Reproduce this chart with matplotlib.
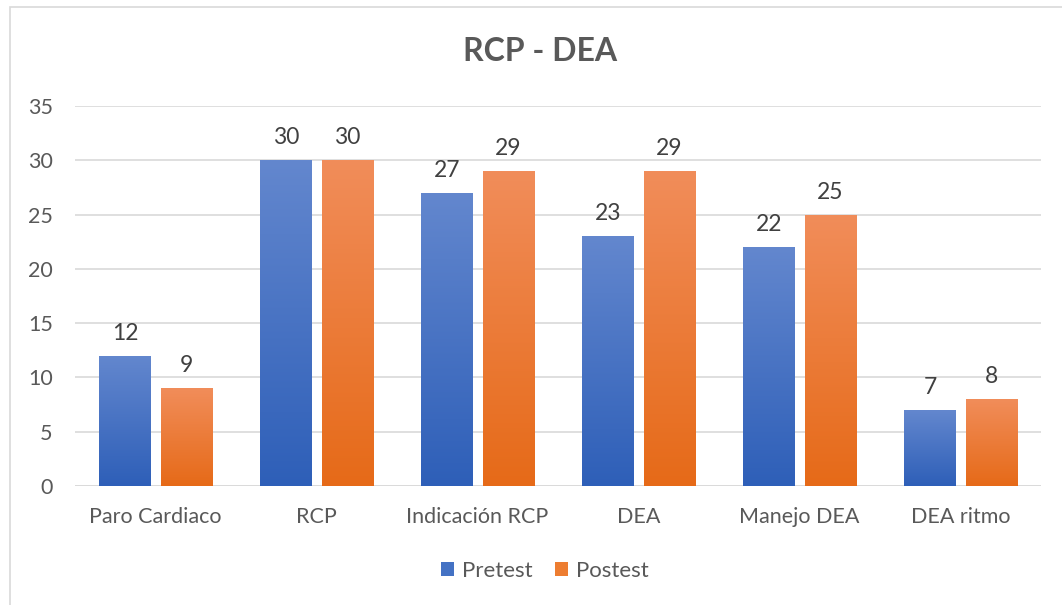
import numpy as np
import matplotlib.pyplot as plt
from matplotlib.colors import LinearSegmentedColormap
from matplotlib.patches import Rectangle

categories = ["Paro Cardiaco", "RCP", "Indicación RCP", "DEA", "Manejo DEA", "DEA ritmo"]
pretest = [12, 30, 27, 23, 22, 7]
postest = [9, 30, 29, 29, 25, 8]

plt.rcParams['font.family'] = ['Lato', 'DejaVu Sans']
TXT = "#595959"

fig = plt.figure(figsize=(10.62, 6.05), dpi=100)
ax = fig.add_axes([0.0706, 0.1967, 0.9096, 0.628])

x = np.arange(len(categories))
w = 0.317
off = 0.19

bars_pre = ax.bar(x - off, pretest, w, color="#4472C4", label="Pretest", zorder=3)
bars_post = ax.bar(x + off, postest, w, color="#ED7D31", label="Postest", zorder=3)

# vertical gradient inside each bar, lighter on top
grad = np.linspace(0, 1, 256).reshape(-1, 1)
cm_blue = LinearSegmentedColormap.from_list("b", ["#2E5FB8", "#6387CE"])
cm_orange = LinearSegmentedColormap.from_list("o", ["#E66A18", "#F18D5A"])
for bars, cm in [(bars_pre, cm_blue), (bars_post, cm_orange)]:
    for b in bars:
        x0, y0 = b.get_x(), b.get_y()
        im = ax.imshow(grad, cmap=cm, origin="lower", aspect="auto",
                       extent=[x0, x0 + b.get_width(), y0, y0 + b.get_height()], zorder=4)
        im.set_clip_path(b)
    for b in bars:
        ax.text(b.get_x() + b.get_width() / 2, b.get_height() + 1.1, str(int(b.get_height())),
                ha="center", va="bottom", fontsize=16.5, color="#404040", zorder=5)

ax.set_xlim(-0.5, len(categories) - 0.5)
ax.set_ylim(0, 35)
ax.set_yticks(range(0, 36, 5))
ax.set_xticks(x)
ax.set_xticklabels(categories)
ax.tick_params(axis="both", length=0, labelsize=15.5, labelcolor=TXT)
ax.tick_params(axis="x", pad=15)
ax.tick_params(axis="y", pad=16)
ax.grid(axis="y", color="#D9D9D9", linewidth=1.2, zorder=0)
for s in ax.spines.values():
    s.set_visible(False)
ax.axhline(0, color="#D9D9D9", linewidth=1.2, zorder=2)

fig.text(0.509, 0.915, "RCP - DEA", ha="center", va="center", fontsize=23,
         fontweight="bold", color=TXT)

fig.legend(handles=[bars_pre, bars_post], labels=["Pretest", "Postest"], loc="center",
           bbox_to_anchor=(0.513, 0.056), ncol=2, frameon=False, fontsize=16,
           handlelength=0.6, handleheight=0.6, columnspacing=1.0, handletextpad=0.35,
           labelcolor=TXT)

fig.patches.append(Rectangle((10 / 1062, -0.1), 1.2, 1.1 - 7 / 605, transform=fig.transFigure,
                             fill=False, edgecolor="#D9D9D9", linewidth=1.2))

fig.savefig("out.png", dpi=100)
